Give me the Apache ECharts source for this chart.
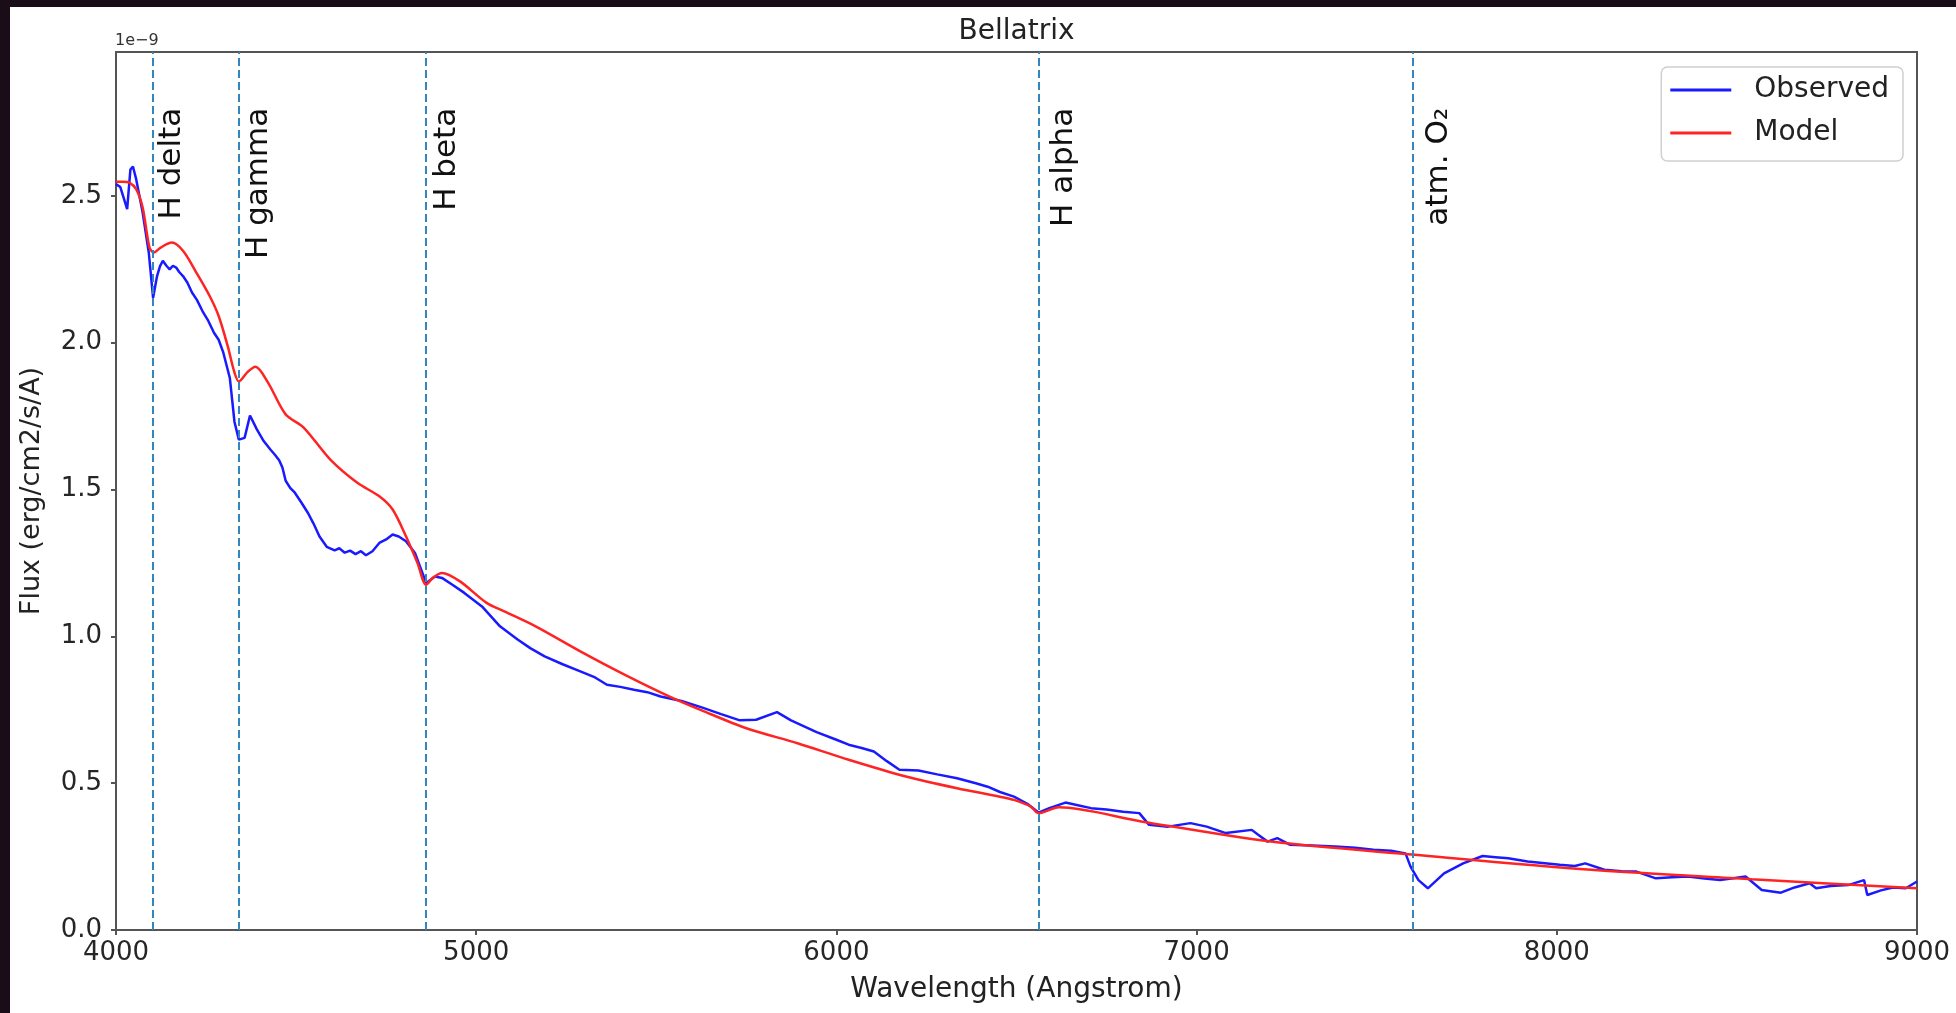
<!DOCTYPE html>
<html><head><meta charset="utf-8">
<script src="https://cdn.jsdelivr.net/npm/echarts@6/dist/echarts.min.js"></script>
<style>
html,body{margin:0;padding:0;background:#1b0d18;width:1956px;height:1013px;overflow:hidden}
#chart{position:absolute;left:10px;top:7px;width:1946px;height:1006px;background:#fff}
</style></head><body><div id="chart"></div>
<script>
// Wavelength (Angstrom) and flux (units of 1e-9 erg/cm2/s/A)
const obsWave = [4000,4012,4031,4040,4047,4056,4074,4091,4103,4114,4122,4130,4140,4149,4158,4167,4176,4186,4198,4211,4225,4242,4256,4272,4285,4298,4316,4329,4341,4357,4372,4391,4410,4428,4440,4453,4462,4471,4484,4496,4515,4533,4548,4565,4585,4607,4620,4635,4650,4665,4680,4694,4712,4731,4750,4768,4785,4805,4830,4861,4886,4905,4935,4967,5016,5066,5115,5150,5190,5240,5289,5330,5363,5400,5438,5475,5512,5570,5626,5680,5732,5777,5835,5874,5945,6000,6034,6070,6104,6140,6175,6228,6280,6335,6387,6420,6454,6493,6530,6561,6591,6636,6670,6707,6750,6796,6841,6868,6921,6983,7028,7081,7153,7171,7197,7224,7260,7320,7384,7440,7491,7540,7580,7594,7616,7642,7687,7740,7794,7830,7865,7919,7960,8008,8050,8079,8132,8180,8221,8275,8320,8364,8410,8453,8490,8524,8569,8622,8660,8702,8720,8760,8809,8853,8862,8900,8933,8969,9000];
const obsFlux = [2.54,2.53,2.455,2.59,2.60,2.557,2.443,2.307,2.153,2.227,2.26,2.279,2.262,2.25,2.262,2.256,2.24,2.227,2.205,2.171,2.145,2.103,2.075,2.034,2.01,1.966,1.88,1.73,1.67,1.676,1.752,1.705,1.665,1.637,1.62,1.60,1.575,1.53,1.505,1.49,1.455,1.42,1.385,1.34,1.305,1.293,1.30,1.285,1.292,1.28,1.29,1.276,1.29,1.318,1.33,1.347,1.34,1.324,1.284,1.182,1.204,1.199,1.175,1.148,1.102,1.034,0.989,0.96,0.932,0.905,0.881,0.86,0.835,0.828,0.818,0.81,0.795,0.78,0.758,0.735,0.714,0.716,0.742,0.714,0.674,0.648,0.631,0.62,0.608,0.575,0.546,0.543,0.53,0.517,0.50,0.488,0.47,0.454,0.43,0.40,0.415,0.434,0.425,0.415,0.41,0.403,0.398,0.358,0.352,0.364,0.352,0.33,0.341,0.324,0.301,0.313,0.29,0.288,0.284,0.28,0.273,0.27,0.261,0.216,0.17,0.142,0.193,0.227,0.252,0.248,0.244,0.233,0.228,0.222,0.218,0.227,0.205,0.2,0.199,0.176,0.18,0.182,0.175,0.17,0.176,0.182,0.136,0.127,0.145,0.159,0.142,0.15,0.153,0.17,0.119,0.135,0.145,0.142,0.165];
const modelWave = [4000,4019,4037,4056,4074,4093,4105,4124,4155,4186,4223,4260,4285,4310,4329,4341,4365,4387,4422,4471,4521,4595,4670,4731,4768,4805,4837,4861,4880,4905,4954,5029,5078,5165,5289,5413,5537,5626,5750,5892,6034,6193,6335,6454,6493,6540,6561,6618,6850,7206,7606,8096,8541,9000];
const modelFlux = [2.548,2.548,2.545,2.523,2.46,2.324,2.307,2.324,2.341,2.313,2.239,2.159,2.091,1.989,1.898,1.868,1.90,1.918,1.864,1.756,1.711,1.602,1.523,1.477,1.432,1.341,1.25,1.176,1.20,1.216,1.188,1.114,1.085,1.034,0.949,0.869,0.795,0.748,0.687,0.636,0.580,0.523,0.483,0.454,0.443,0.42,0.398,0.418,0.369,0.301,0.256,0.205,0.173,0.142];
const lineWave = [4102, 4340, 4861, 6563, 7600];
const lineLabels = ['H delta', 'H gamma', 'H beta', 'H alpha', 'atm. O\u2082'];
const labelWave = [4122, 4362, 4885, 6596, 7638];
const labelTop = 2.8;
const xTicks = [4000, 5000, 6000, 7000, 8000, 9000];
const yTicks = [0, 0.5, 1.0, 1.5, 2.0, 2.5];

const FONT = 'DejaVu Sans';
const chart = echarts.init(document.getElementById('chart'), null, {renderer: 'canvas'});
const zip = (a, b) => a.map((v, i) => [v, b[i]]);

const option = {
  animation: false,
  backgroundColor: '#ffffff',
  textStyle: {fontFamily: FONT},
  grid: {left: 106, top: 45, right: 39, bottom: 83, show: true, borderColor: '#555', borderWidth: 2, backgroundColor: 'transparent', outerBoundsMode: 'none'},
  legend: {
    orient: 'vertical', right: 53, top: 60,
    padding: [8, 14, 13, 9], itemGap: 13,
    itemWidth: 61, itemHeight: 3, icon: 'rect',
    borderColor: '#d0d0d0', borderWidth: 1.5, borderRadius: 6, backgroundColor: '#fff',
    textStyle: {fontSize: 28, lineHeight: 30, color: '#222', fontFamily: FONT, padding: [0, 0, 0, 18]},
    data: ['Observed', 'Model']
  },
  xAxis: {
    type: 'value', min: 4000, max: 9000, interval: 1000,
    name: 'Wavelength (Angstrom)', nameLocation: 'middle', nameGap: 46,
    nameTextStyle: {fontSize: 28, color: '#222', fontFamily: FONT},
    axisLine: {show: false},
    axisTick: {show: true, length: 5, lineStyle: {color: '#555', width: 2}, customValues: xTicks},
    axisLabel: {fontSize: 26, color: '#262626', margin: 10, fontFamily: FONT, customValues: xTicks,
      formatter: v => String(Math.round(v))},
    splitLine: {show: false}
  },
  yAxis: {
    type: 'value', min: 0, max: 2.99, interval: 0.5,
    name: 'Flux (erg/cm2/s/A)', nameLocation: 'middle', nameGap: 71,
    nameTextStyle: {fontSize: 27, color: '#222', fontFamily: FONT},
    axisLine: {show: false},
    axisTick: {show: true, length: 5, lineStyle: {color: '#555', width: 2}, customValues: yTicks},
    axisLabel: {fontSize: 26, color: '#262626', margin: 14, fontFamily: FONT, customValues: yTicks,
      formatter: v => v.toFixed(1)},
    splitLine: {show: false}
  },
  series: [
    {name: 'Observed', type: 'line', data: zip(obsWave, obsFlux), showSymbol: false, symbol: 'none',
     lineStyle: {color: '#1a1aff', width: 2.5}, itemStyle: {color: '#1a1aff'}, z: 2, silent: true},
    {name: 'Model', type: 'line', data: zip(modelWave, modelFlux), showSymbol: false, symbol: 'none', smooth: 0.3,
     lineStyle: {color: '#ff2424', width: 2.5}, itemStyle: {color: '#ff2424'}, z: 3, silent: true},
    {name: 'lines', type: 'line', data: [], z: 4, silent: true,
     markLine: {silent: true, symbol: ['none', 'none'], animation: false,
       lineStyle: {color: '#3585c0', type: [8, 4], width: 2},
       label: {show: false}, emphasis: {disabled: true},
       data: lineWave.map(w => ({xAxis: w}))}}
  ]
};
chart.setOption(option);

function addTexts() {
  const g = [];
  const left = chart.convertToPixel({gridIndex: 0}, [4000, 0]);
  const right = chart.convertToPixel({gridIndex: 0}, [9000, 2.99]);
  const cx = (left[0] + right[0]) / 2;
  g.push({type: 'text', x: cx, y: right[1] - 34, silent: true,
    style: {text: 'Bellatrix', fontSize: 28, fontFamily: FONT, fill: '#222', align: 'center', verticalAlign: 'top'}});
  g.push({type: 'text', x: left[0] - 1, y: right[1] - 19, silent: true,
    style: {text: '1e\u22129', fontSize: 16, fontFamily: FONT, fill: '#333', align: 'left', verticalAlign: 'top'}});
  lineLabels.forEach((t, i) => {
    const p = chart.convertToPixel({gridIndex: 0}, [labelWave[i], labelTop]);
    g.push({type: 'text', x: p[0] - 3, y: p[1], rotation: Math.PI / 2, silent: true,
      style: {text: t, fontSize: 31, fontFamily: FONT, fill: '#111', align: 'right', verticalAlign: 'top'}});
  });
  chart.setOption({graphic: g});
}
addTexts();
</script></body></html>
